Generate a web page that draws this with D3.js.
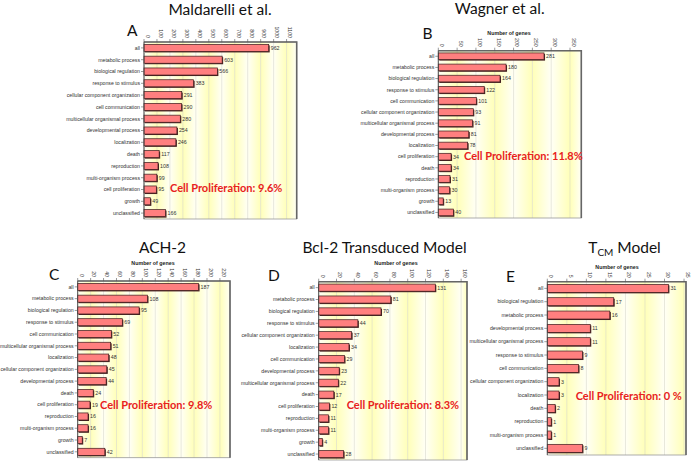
<!DOCTYPE html>
<html>
<head>
<meta charset="utf-8">
<script src="https://cdn.jsdelivr.net/npm/d3@7"></script>
<style>
  body { margin: 0; background: #fff; }
  svg { display: block; }
</style>
</head>
<body>
<script>
// ---- data ----
var catsA = ["all", "metabolic process", "biological regulation", "response to stimulus",
  "cellular component organization", "cell communication", "multicellular organismal process",
  "developmental process", "localization", "death", "reproduction", "multi-organism process",
  "cell proliferation", "growth", "unclassified"];
var valsA = [962, 603, 566, 383, 291, 290, 280, 254, 246, 117, 108, 99, 95, 49, 166];
var ticksA = [0, 100, 200, 300, 400, 500, 600, 700, 800, 900, 1000, 1100];

var catsB = ["all", "metabolic process", "biological regulation", "response to stimulus",
  "cell communication", "cellular component organization", "multicellular organismal process",
  "developmental process", "localization", "cell proliferation", "death", "reproduction",
  "multi-organism process", "growth", "unclassified"];
var valsB = [281, 180, 164, 122, 101, 93, 91, 81, 78, 34, 34, 31, 30, 13, 40];
var ticksB = [0, 50, 100, 150, 200, 250, 300, 350];

var catsC = ["all", "metabolic process", "biological regulation", "response to stimulus",
  "cell communication", "multicellular organismal process", "localization",
  "cellular component organization", "developmental process", "death", "cell proliferation",
  "reproduction", "multi-organism process", "growth", "unclassified"];
var valsC = [187, 108, 95, 69, 52, 51, 48, 45, 44, 24, 19, 16, 16, 7, 42];
var ticksC = [0, 20, 40, 60, 80, 100, 120, 140, 160, 180, 200, 220];

var catsD = ["all", "metabolic process", "biological regulation", "response to stimulus",
  "cellular component organization", "localization", "cell communication",
  "developmental process", "multicellular organismal process", "death", "cell proliferation",
  "reproduction", "multi-organism process", "growth", "unclassified"];
var valsD = [131, 81, 70, 44, 37, 34, 29, 23, 22, 17, 12, 11, 11, 4, 28];
var ticksD = [0, 20, 40, 60, 80, 100, 120, 140, 160];

var catsE = ["all", "biological regulation", "metabolic process", "developmental process",
  "multicellular organismal process", "response to stimulus", "cell communication",
  "cellular component organization", "localization", "death", "reproduction",
  "multi-organism process", "unclassified"];
var valsE = [31, 17, 16, 11, 11, 9, 8, 3, 3, 2, 1, 1, 9];
var ticksE = [0, 5, 10, 15, 20, 25, 30, 35];

var W = 696, H = 462;
var svg = d3.select("body").append("svg").attr("width", W).attr("height", H);

var defs = svg.append("defs");
var gUp = defs.append("linearGradient").attr("id", "bandUp");
gUp.append("stop").attr("offset", "0%").attr("stop-color", "#fffff6");
gUp.append("stop").attr("offset", "100%").attr("stop-color", "#ffffb8");
var gDown = defs.append("linearGradient").attr("id", "bandDown");
gDown.append("stop").attr("offset", "0%").attr("stop-color", "#ffffb8");
gDown.append("stop").attr("offset", "100%").attr("stop-color", "#fffff6");

var smallFont = "'Liberation Sans', Arial, sans-serif";
var bigFont = "Lato, 'Open Sans', sans-serif";

function drawPanel(p) {
  var x = d3.scaleLinear().domain([0, p.max]).range([p.left, p.right]);
  var y = d3.scaleBand().domain(p.cats).range([p.top, p.bottom])
      .paddingInner(0.4).paddingOuter(0.2);
  var g = svg.append("g");

  // striped background
  var edges = p.ticks.concat([p.max]);
  g.selectAll("rect.band").data(d3.range(edges.length - 1)).join("rect")
      .attr("class", "band")
      .attr("x", i => x(edges[i]))
      .attr("width", i => x(edges[i + 1]) - x(edges[i]))
      .attr("y", p.top).attr("height", p.bottom - p.top)
      .attr("fill", i => i % 2 ? "url(#bandDown)" : "url(#bandUp)");

  g.selectAll("line.grid").data(p.ticks.slice(1)).join("line")
      .attr("class", "grid")
      .attr("x1", d => x(d)).attr("x2", d => x(d))
      .attr("y1", p.top).attr("y2", p.bottom)
      .attr("stroke", "#d8d8c8").attr("stroke-width", 0.6);

  // frame
  g.append("rect").attr("x", p.left).attr("y", p.top)
      .attr("width", p.right - p.left).attr("height", p.bottom - p.top)
      .attr("fill", "none").attr("stroke", "#999").attr("stroke-width", 0.8);
  g.append("path")
      .attr("d", "M" + p.left + "," + p.top + "H" + p.right + "V" + p.bottom)
      .attr("fill", "none").attr("stroke", "#666").attr("stroke-width", 1.6);

  // bars with a dark drop edge
  var bars = g.selectAll("g.bar").data(p.cats).join("g").attr("class", "bar");
  bars.append("rect")
      .attr("x", p.left + 1).attr("y", d => y(d) + 1)
      .attr("width", (d, i) => x(p.vals[i]) - p.left)
      .attr("height", y.bandwidth())
      .attr("fill", "#4a2424");
  bars.append("rect")
      .attr("x", p.left).attr("y", d => y(d))
      .attr("width", (d, i) => x(p.vals[i]) - p.left)
      .attr("height", y.bandwidth())
      .attr("fill", "#ff7f7f").attr("stroke", "#3a1c1c").attr("stroke-width", 0.7);
  bars.append("text")
      .attr("x", (d, i) => x(p.vals[i]) + 2)
      .attr("y", d => y(d) + y.bandwidth() / 2 + 1.9)
      .attr("font-family", smallFont).attr("font-size", 5.3).attr("fill", "#333")
      .text((d, i) => p.vals[i]);

  // left axis
  g.append("line").attr("x1", p.left).attr("x2", p.left)
      .attr("y1", p.top).attr("y2", p.bottom).attr("stroke", "#444").attr("stroke-width", 0.8);
  g.selectAll("line.ytick").data(p.cats).join("line").attr("class", "ytick")
      .attr("x1", p.left - 3).attr("x2", p.left)
      .attr("y1", d => y(d) + y.bandwidth() / 2).attr("y2", d => y(d) + y.bandwidth() / 2)
      .attr("stroke", "#555").attr("stroke-width", 0.6);
  g.selectAll("text.ylab").data(p.cats).join("text").attr("class", "ylab")
      .attr("x", p.left - 4)
      .attr("y", d => y(d) + y.bandwidth() / 2 + 1.8)
      .attr("text-anchor", "end")
      .attr("font-family", smallFont).attr("font-size", 5.2).attr("fill", "#333")
      .text(d => d);

  // top axis
  g.selectAll("line.xtick").data(p.ticks).join("line").attr("class", "xtick")
      .attr("x1", d => x(d)).attr("x2", d => x(d))
      .attr("y1", p.top - 3).attr("y2", p.top)
      .attr("stroke", "#555").attr("stroke-width", 0.6);
  g.selectAll("text.xlab").data(p.ticks).join("text").attr("class", "xlab")
      .attr("transform", d => "translate(" + (x(d) + 1.8) + "," + (p.top - 4) + ") rotate(90)")
      .attr("text-anchor", "end")
      .attr("font-family", smallFont).attr("font-size", 5.2).attr("fill", "#333")
      .text(d => d);

  if (p.axisTitle) {
    g.append("text").attr("x", p.axisTitle[0]).attr("y", p.axisTitle[1])
        .attr("text-anchor", "middle")
        .attr("font-family", smallFont).attr("font-size", 5.3).attr("font-weight", "bold")
        .attr("fill", "#222").text("Number of genes");
  }

  // panel letter
  g.append("text").attr("x", p.letterPos[0]).attr("y", p.letterPos[1])
      .attr("font-family", bigFont).attr("font-size", 15.5).attr("fill", "#111")
      .text(p.letter);

  // title
  var t = g.append("text").attr("x", p.titlePos[0]).attr("y", p.titlePos[1])
      .attr("text-anchor", "middle")
      .attr("font-family", bigFont).attr("font-size", 15.5).attr("fill", "#111");
  if (p.titleSub) {
    t.append("tspan").text(p.title);
    t.append("tspan").attr("font-size", 10).attr("dy", 3.5).text(p.titleSub);
    t.append("tspan").attr("dy", -3.5).text(p.titleRest);
  } else {
    t.text(p.title);
  }

  // annotation
  g.append("text").attr("x", p.notePos[0]).attr("y", p.notePos[1])
      .attr("font-family", bigFont).attr("font-size", 11).attr("font-weight", "bold")
      .attr("fill", "#e8221c").text(p.note);
}

drawPanel({
  cats: catsA, vals: valsA, ticks: ticksA, max: 1178,
  left: 144, right: 296.7, top: 42, bottom: 219,
  letter: "A", letterPos: [127, 36],
  title: "Maldarelli et al.", titlePos: [220, 15],
  note: "Cell Proliferation: 9.6%", notePos: [170, 191.5]
});
drawPanel({
  cats: catsB, vals: valsB, ticks: ticksB, max: 380,
  left: 438.3, right: 581.3, top: 50.7, bottom: 218,
  letter: "B", letterPos: [422.5, 39], axisTitle: [509, 35],
  title: "Wagner et al.", titlePos: [499.7, 14],
  note: "Cell Proliferation: 11.8%", notePos: [464, 159.5]
});
drawPanel({
  cats: catsC, vals: valsC, ticks: ticksC, max: 235.6,
  left: 77.7, right: 230, top: 281, bottom: 457.7,
  letter: "C", letterPos: [49, 280], axisTitle: [153, 265],
  title: "ACH-2", titlePos: [162.5, 252.7],
  note: "Cell Proliferation: 9.8%", notePos: [100, 408.5]
});
drawPanel({
  cats: catsD, vals: valsD, ticks: ticksD, max: 166.6,
  left: 318.7, right: 467, top: 281.7, bottom: 460,
  letter: "D", letterPos: [268, 280.7], axisTitle: [396, 265],
  title: "Bcl-2 Transduced Model", titlePos: [384.5, 252.7],
  note: "Cell Proliferation: 8.3%", notePos: [346.7, 409]
});
drawPanel({
  cats: catsE, vals: valsE, ticks: ticksE, max: 35.5,
  left: 547.3, right: 686, top: 281.7, bottom: 455,
  letter: "E", letterPos: [506, 281.5], axisTitle: [617, 268.5],
  title: "T", titleSub: "CM", titleRest: " Model", titlePos: [624.5, 252.7],
  note: "Cell Proliferation: 0 %", notePos: [575.7, 400]
});
</script>
</body>
</html>
